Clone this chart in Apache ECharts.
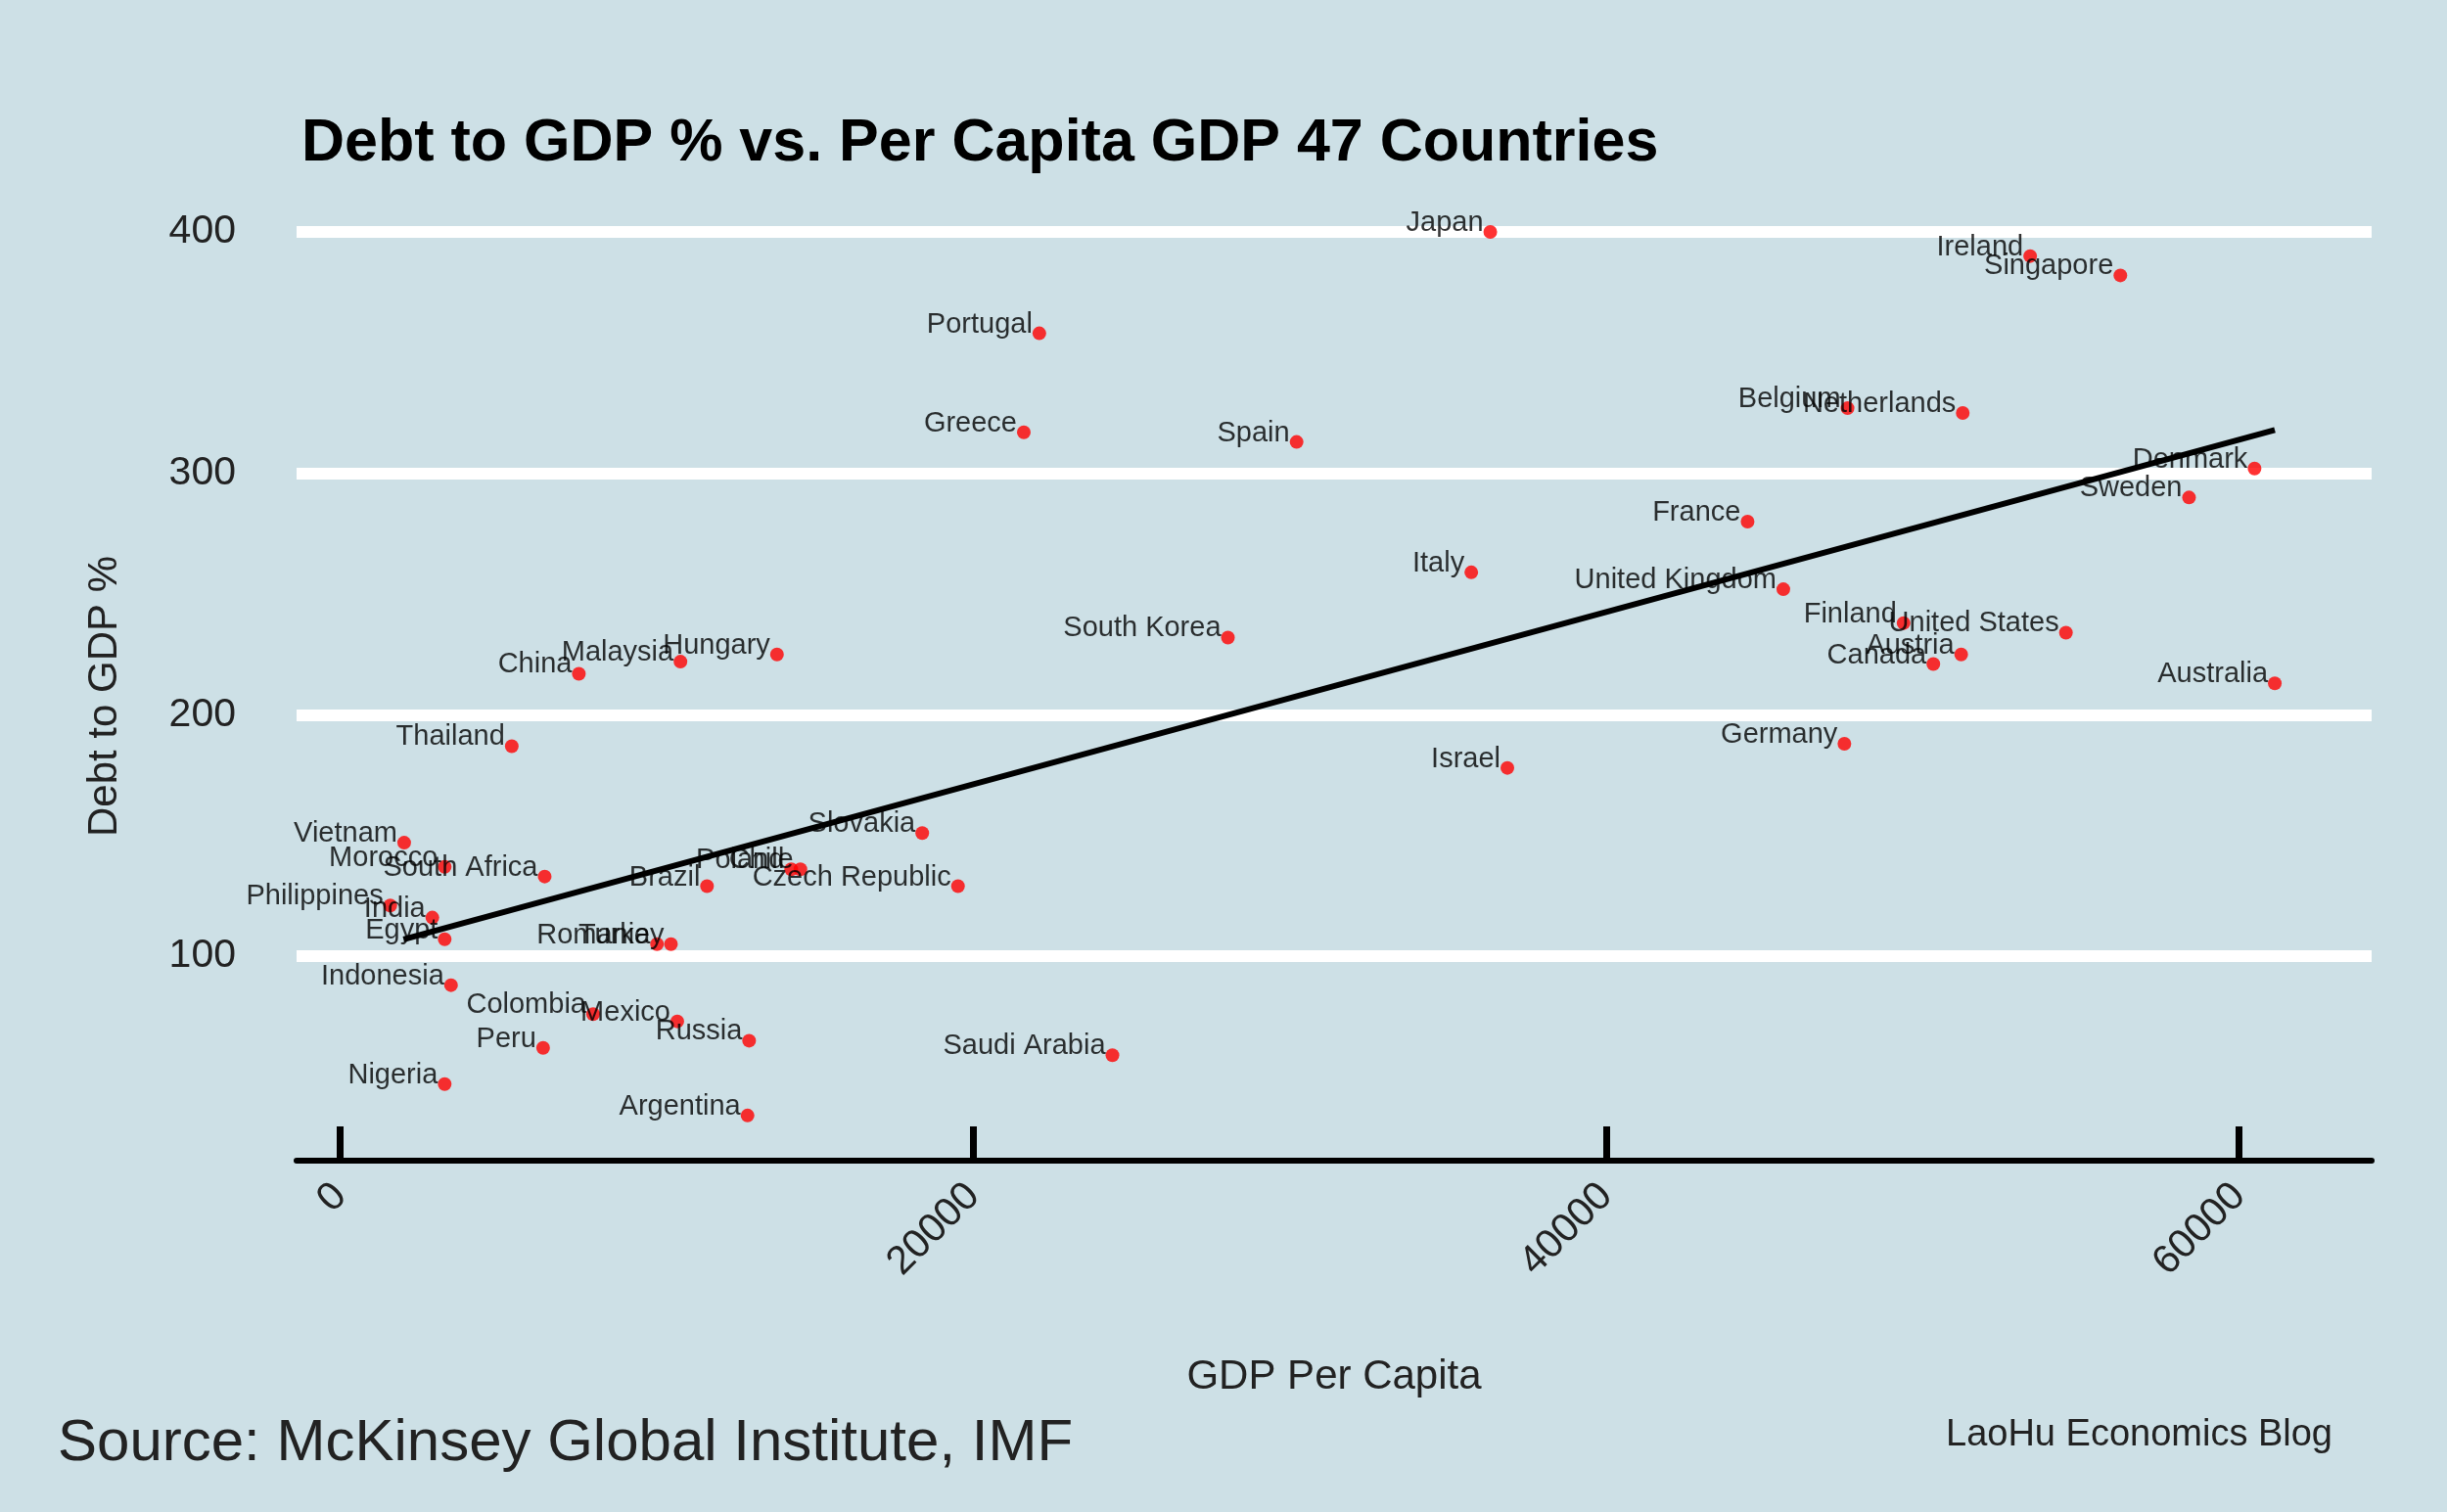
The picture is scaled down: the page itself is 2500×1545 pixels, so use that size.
<!DOCTYPE html>
<html>
<head>
<meta charset="utf-8">
<script src="https://cdn.jsdelivr.net/npm/echarts@6/dist/echarts.min.js"></script>
<style>html,body{margin:0;background:#cde0e6}#chart{width:2500px;height:1545px}</style>
</head>
<body>
<div id="chart"></div>
<script>
// country names, GDP per capita, debt to GDP %
const countries = ['Japan','Ireland','Singapore','Portugal','Greece','Spain','Belgium','Netherlands','Denmark','Sweden',
  'France','Italy','United Kingdom','Finland','United States','Austria','Canada','Australia','South Korea','Germany',
  'Israel','Hungary','Malaysia','China','Thailand','Slovakia','Chile','Poland','Czech Republic','Brazil',
  'South Africa','Vietnam','Morocco','India','Philippines','Egypt','Romania','Turkey','Indonesia','Colombia',
  'Mexico','Russia','Peru','Saudi Arabia','Nigeria','Argentina'];
const gdpPerCapita = [36340,53400,56250,22090,21600,30220,47630,51270,60490,58420,
  44470,35740,45600,49400,54530,51220,50340,61130,28050,47530,
  36880,13800,10750,7540,5420,18390,14540,14250,19520,11590,
  6460,2020,3300,2910,1580,3300,10010,10450,3500,7990,
  10650,12920,6410,24400,3300,12870];
const debtToGdp = [400,390,382,358,317,313,327,325,302,290,
  280,259,252,238,234,225,221,213,232,188,
  178,225,222,217,187,151,136,136,129,129,
  133,147,137,116,121,107,105,105,88,76,
  73,65,62,59,47,34];
const trendX = [2000, 61130];
const trendY = [107, 318];
const gridValues = [100, 200, 300, 400];
const xTicks = [0, 20000, 40000, 60000];

const font = 'Liberation Sans';
const chart = echarts.init(document.getElementById('chart'));
chart.setOption({
    backgroundColor: '#cde0e6',
    textStyle: { fontFamily: font },
    title: [
        { text: 'Debt to GDP % vs. Per Capita GDP 47 Countries', left: 303, top: 112,
          textStyle: { fontSize: 61, fontWeight: 'bold', color: '#000', fontFamily: font } },
        { text: 'Source: McKinsey Global Institute, IMF', left: 54, top: 1440,
          textStyle: { fontSize: 60, fontWeight: 'normal', color: '#222', fontFamily: font } },
        { text: 'LaoHu Economics Blog', right: 112, top: 1443,
          textStyle: { fontSize: 38, fontWeight: 'normal', color: '#222', fontFamily: font } }
    ],
    grid: { left: 303, right: 77, top: 237, bottom: 359 },
    xAxis: {
        type: 'value', min: -1380, max: 64190,
        name: 'GDP Per Capita', nameLocation: 'middle', nameGap: 200,
        nameTextStyle: { fontSize: 42, color: '#222' },
        splitLine: { show: false },
        axisLine: { lineStyle: { color: '#000', width: 6 } },
        axisTick: { inside: true, length: 35, lineStyle: { width: 7, color: '#000' }, customValues: xTicks },
        axisLabel: { customValues: xTicks, rotate: 45, fontSize: 41, color: '#222', margin: 30,
                     formatter: v => String(v) }
    },
    yAxis: {
        type: 'value', min: 15.3, max: 400,
        name: 'Debt to GDP %', nameLocation: 'middle', nameGap: 175, nameRotate: 90,
        nameTextStyle: { fontSize: 42, color: '#222' },
        splitLine: { show: false },
        axisLine: { show: false },
        axisTick: { show: false },
        axisLabel: { customValues: gridValues, fontSize: 41, color: '#222', margin: 62 }
    },
    series: [
        {
            type: 'scatter', symbolSize: 14, z: 5,
            itemStyle: { color: '#ff0000' },
            data: countries.map((c, i) => ({ name: c, value: [gdpPerCapita[i], debtToGdp[i]] })),
            label: {
                show: true, position: 'left', distance: 0, offset: [0, -9],
                formatter: p => p.name, fontSize: 29, color: '#000'
            },
            markLine: {
                silent: true, symbol: 'none', z: 1,
                lineStyle: { color: '#fff', width: 12, type: 'solid' },
                label: { show: false },
                data: gridValues.map(v => ({ yAxis: v }))
            }
        },
        {
            type: 'line', showSymbol: false, z: 4,
            lineStyle: { color: '#000', width: 6 },
            data: trendX.map((x, i) => [x, trendY[i]])
        }
    ]
});
</script>
</body>
</html>
